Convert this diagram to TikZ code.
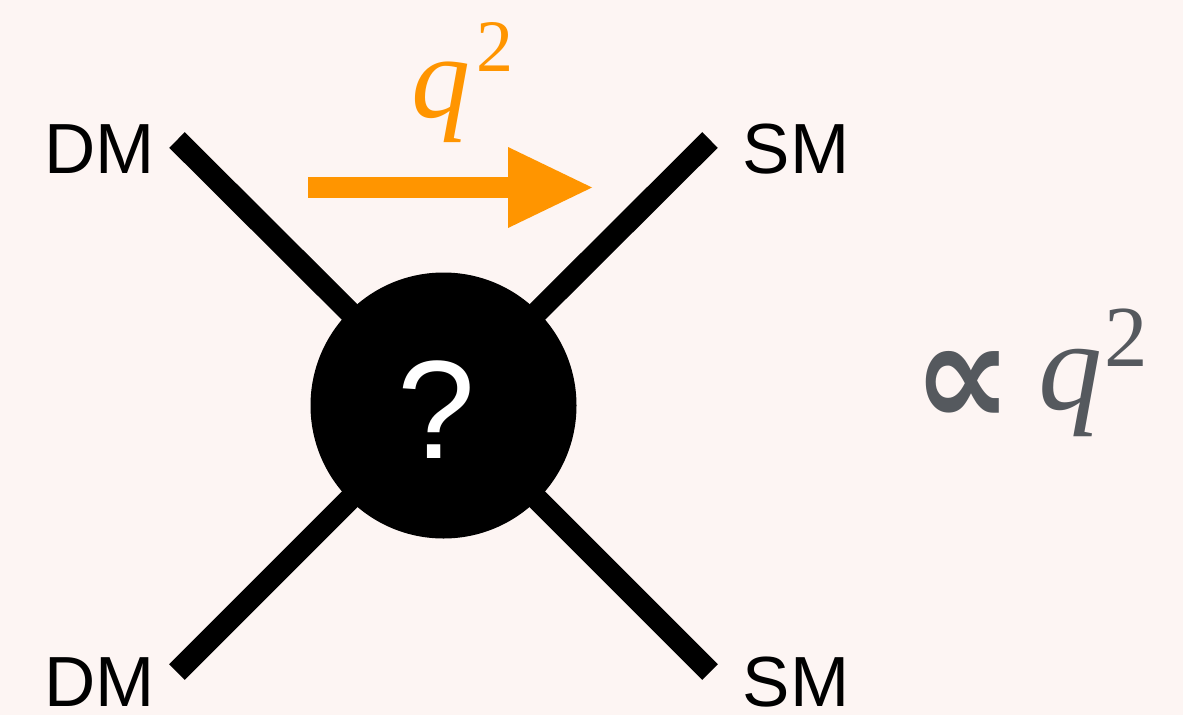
\documentclass[tikz,border=0pt]{standalone}
\usepackage{fontspec}
\usepackage{graphicx}
\setmainfont{Liberation Serif}
\newfontfamily\lsans{Liberation Sans}
\newfontfamily\dvsans{DejaVu Sans}
\usetikzlibrary{arrows.meta}
\definecolor{bgpink}{HTML}{FDF5F3}
\definecolor{qorange}{HTML}{FF9500}
\definecolor{pgray}{HTML}{55595E}
\tikzset{
  leg/.style={line width=22pt, black},
  lbl/.style={inner sep=0pt, anchor=base west, font=\lsans\fontsize{71}{71}\selectfont},
  blob/.style={circle, fill=black, minimum size=266pt, inner sep=0pt},
  qarrow/.style={qorange, line width=21pt, -{Triangle[length=84pt,width=81pt,line width=0pt]}},
}
\begin{document}
\begin{tikzpicture}[x=1pt,y=-1pt]
\fill[bgpink] (0,0) rectangle (1183,715);
\useasboundingbox (0,0) rectangle (1183,715);
% legs
\coordinate (c) at (443.5,405.5);
\coordinate (tl) at (177,140);
\coordinate (tr) at (710,140);
\coordinate (bl) at (177,672);
\coordinate (br) at (710,672);
\draw[leg] (tl) -- (c);
\draw[leg] (tr) -- (c);
\draw[leg] (bl) -- (c);
\draw[leg] (br) -- (c);
\node[blob] (v) at (c) {};
\node[inner sep=0pt, anchor=base, text=white, font=\lsans\fontsize{140}{140}\selectfont] (qm) at (436.5,458) {?};
% labels
\node[lbl] (dm1) at (44.5,173) {DM};
\node[lbl] (sm1) at (742.5,173) {SM};
\node[lbl] (dm2) at (44.5,706) {DM};
\node[lbl] (sm2) at (742.5,706) {SM};
% arrow
\coordinate (a1) at (308,187.5);
\coordinate (a2) at (592,187.5);
\draw[qarrow] (a1) -- (a2);
\node[inner sep=0pt, anchor=base west, text=qorange, font=\fontsize{118}{118}\selectfont] (q2) at (411,117)
  {\itshape q\kern6pt\raisebox{46pt}{\fontsize{74}{74}\selectfont\upshape 2}};
% proportional
\node[inner sep=0pt, anchor=base west, text=pgray] (prop) at (913,426)
  {\resizebox{99pt}{75pt}{\dvsans\bfseries ∝}};
\node[inner sep=0pt, anchor=base west, text=pgray, font=\fontsize{128}{128}\selectfont] (q2b) at (1038,409)
  {\itshape q\kern2pt\raisebox{43pt}{\fontsize{87}{87}\selectfont\upshape 2}};
\end{tikzpicture}
\end{document}
